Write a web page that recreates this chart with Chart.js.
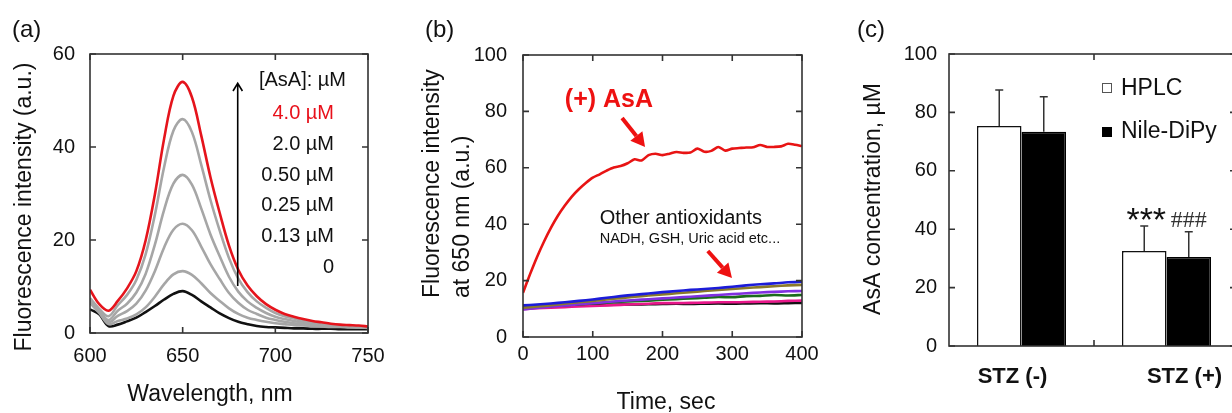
<!DOCTYPE html>
<html>
<head>
<meta charset="utf-8">
<script src="https://cdn.jsdelivr.net/npm/chart.js@4.4.1/dist/chart.umd.min.js"></script>
<style>
  html, body { margin: 0; padding: 0; background: #fff; overflow: hidden; }
  #wrap { position: relative; width: 1232px; height: 413px; overflow: hidden; background: #fff; }
  canvas { position: absolute; top: 0; }
</style>
</head>
<body>
<div id="wrap">
  <canvas id="chartA" width="410" height="413" style="left:0px"></canvas>
  <canvas id="chartB" width="420" height="413" style="left:410px"></canvas>
  <canvas id="chartC" width="400" height="413" style="left:840px"></canvas>
</div>
<script>
// ---- (a) emission spectra ----
const wavelengths = [600,605,610,615,620,625,630,635,640,645,650,655,660,665,670,675,680,685,690,695,700,705,710,715,720,725,730,735,740,745,750];
const spec_4_00 = [9.3,6.2,4.8,6.9,9.6,13.3,19.9,29.8,41.8,51.0,54.0,50.7,42.5,33.5,25.8,18.8,13.6,10.2,7.9,6.2,5.0,4.1,3.5,3.0,2.6,2.3,2.0,1.8,1.7,1.6,1.4];
const spec_2_00 = [7.5,5.2,3.6,6.0,8.2,11.4,16.9,25.4,35.7,43.5,46.0,43.2,36.2,28.6,22.0,16.1,11.7,8.8,6.8,5.4,4.3,3.6,3.1,2.6,2.3,2.1,1.8,1.6,1.5,1.4,1.3];
const spec_0_50 = [7.0,4.8,2.8,4.8,6.3,8.7,12.7,19.0,26.5,32.1,34.0,31.9,26.8,21.2,16.5,12.1,8.9,6.8,5.4,4.3,3.5,3.0,2.6,2.3,2.0,1.8,1.6,1.5,1.4,1.3,1.2];
const spec_0_25 = [6.8,4.5,2.3,3.7,4.7,6.3,9.1,13.3,18.4,22.2,23.5,22.1,18.6,14.8,11.6,8.6,6.5,5.0,4.1,3.3,2.8,2.4,2.1,1.9,1.7,1.6,1.5,1.4,1.3,1.2,1.2];
const spec_0_13 = [6.5,4.3,1.9,2.6,3.1,4.0,5.5,7.8,10.5,12.6,13.3,12.5,10.7,8.6,6.9,5.3,4.1,3.3,2.8,2.4,2.1,1.9,1.7,1.6,1.5,1.4,1.3,1.3,1.2,1.2,1.1];
const spec_0_00 = [5.1,4.0,1.5,1.8,2.5,3.3,4.5,5.8,7.2,8.4,9.0,8.2,6.8,5.5,4.2,3.2,2.4,1.9,1.5,1.3,1.2,1.1,1.0,1.0,0.9,0.9,0.9,0.8,0.8,0.8,0.8];
const concLabels = ["4.0 µM", "2.0 µM", "0.50 µM", "0.25 µM", "0.13 µM", "0"];

// ---- (b) time course at 650 nm ----
const time10 = [0,10,20,30,40,50,60,70,80,90,100,110,120,130,140,150,160,170,180,190,200,210,220,230,240,250,260,270,280,290,300,310,320,330,340,350,360,370,380,390,400];
const asaTrace = [15.7,22.2,28.3,33.8,38.7,43.0,46.6,49.8,52.4,54.6,56.5,57.7,59.0,60.1,60.6,61.6,63.0,62.6,64.5,65.0,64.5,65.0,65.6,65.3,65.4,66.8,65.7,66.0,67.4,66.1,66.8,67.0,67.2,67.3,68.1,67.4,67.4,67.6,68.5,68.2,67.7];
const time20 = [0,20,40,60,80,100,120,140,160,180,200,220,240,260,280,300,320,340,360,380,400];
const otherBlue   = [11.2,11.5,11.9,12.3,12.8,13.3,13.9,14.5,15.0,15.4,15.9,16.3,16.7,17.0,17.4,17.8,18.3,18.7,19.0,19.4,19.6];
const otherOlive  = [10.4,10.8,11.3,11.8,12.3,12.8,13.3,13.8,14.3,14.7,15.1,15.5,15.9,16.3,16.7,17.0,17.4,17.7,18.0,18.3,18.5];
const otherPurple = [9.8,10.3,10.8,11.2,11.6,12.0,12.4,12.8,13.1,13.4,13.7,14.0,14.3,14.6,14.9,15.2,15.5,15.8,16.0,16.2,16.3];
const otherGreen  = [10.6,10.8,11.0,11.3,11.6,11.9,12.2,12.5,12.7,12.9,13.2,13.4,13.7,13.9,14.2,14.1,14.5,14.6,14.9,14.7,14.9];
const otherPink   = [9.9,10.2,10.4,10.6,10.8,11.0,11.2,11.4,11.6,11.8,12.0,12.0,12.1,12.2,12.3,12.3,12.4,12.5,12.6,12.8,12.9];
const otherBlack  = [10.9,11.0,11.1,11.2,11.2,11.3,11.4,11.5,11.5,11.6,11.7,11.8,11.7,11.8,11.9,11.8,11.9,12.0,11.9,12.0,12.1];

// ---- (c) AsA concentration ----
const groups = ["STZ (-)", "STZ (+)"];
const hplcMean = [75.3, 32.5];
const hplcErr  = [12.4, 8.6];
const dipyMean = [73.4, 30.5];
const dipyErr  = [12.0, 8.6];

Chart.defaults.font.family = "'Liberation Sans', Arial, sans-serif";
Chart.defaults.color = "#111";
Chart.defaults.animation = false;

const FRAME = "#333";
const SANS = "'Liberation Sans', Arial, sans-serif";

function xy(xs, ys) { return xs.map((v, i) => ({ x: v, y: ys[i] })); }

// frame plus inward ticks on all sides
function drawBox(chart, xVals, yVals, len, rightLen) {
  const { ctx, chartArea: a, scales } = chart;
  const x = scales.x, y = scales.y;
  ctx.save();
  ctx.strokeStyle = FRAME;
  ctx.lineWidth = 1.6;
  ctx.strokeRect(a.left, a.top, a.right - a.left, a.bottom - a.top);
  ctx.beginPath();
  xVals.forEach(v => {
    const px = x.getPixelForValue(v);
    ctx.moveTo(px, a.bottom); ctx.lineTo(px, a.bottom - len);
    ctx.moveTo(px, a.top); ctx.lineTo(px, a.top + len);
  });
  yVals.forEach(v => {
    const py = y.getPixelForValue(v);
    ctx.moveTo(a.left, py); ctx.lineTo(a.left + len, py);
    ctx.moveTo(a.right, py); ctx.lineTo(a.right - (rightLen || len), py);
  });
  ctx.stroke();
  ctx.restore();
}

function text(ctx, s, x, y, font, color, align, rotate) {
  ctx.save();
  ctx.font = font;
  ctx.fillStyle = color || "#111";
  ctx.textAlign = align || "left";
  ctx.textBaseline = "middle";
  if (rotate) {
    ctx.translate(x, y);
    ctx.rotate(-Math.PI / 2);
    ctx.fillText(s, 0, 0);
  } else {
    ctx.fillText(s, x, y);
  }
  ctx.restore();
}

function arrow(ctx, x0, y0, x1, y1, color, width, head, filled) {
  const ang = Math.atan2(y1 - y0, x1 - x0);
  ctx.save();
  ctx.strokeStyle = color;
  ctx.fillStyle = color;
  ctx.lineWidth = width;
  ctx.beginPath();
  if (filled) {
    const bx = x1 - head * Math.cos(ang), by = y1 - head * Math.sin(ang);
    ctx.moveTo(x0, y0); ctx.lineTo(bx, by); ctx.stroke();
    ctx.beginPath();
    ctx.moveTo(x1, y1);
    ctx.lineTo(bx + head * 0.55 * Math.sin(ang), by - head * 0.55 * Math.cos(ang));
    ctx.lineTo(bx - head * 0.55 * Math.sin(ang), by + head * 0.55 * Math.cos(ang));
    ctx.closePath();
    ctx.fill();
  } else {
    ctx.moveTo(x0, y0); ctx.lineTo(x1, y1);
    ctx.moveTo(x1 - head * Math.cos(ang - 0.55), y1 - head * Math.sin(ang - 0.55));
    ctx.lineTo(x1, y1);
    ctx.lineTo(x1 - head * Math.cos(ang + 0.55), y1 - head * Math.sin(ang + 0.55));
    ctx.stroke();
  }
  ctx.restore();
}

function baseScales(xOpts, yOpts, xHeight, yWidth) {
  const common = {
    grid: { display: false, drawTicks: false },
    border: { display: false },
  };
  return {
    x: Object.assign({}, common, xOpts, { afterFit: s => { s.height = xHeight; } }),
    y: Object.assign({}, common, yOpts, { afterFit: s => { s.width = yWidth; } }),
  };
}

// ===================== (a) =====================
const panelA = {
  id: "panelA",
  afterDraw(chart) {
    const { ctx, scales: { x, y } } = chart;
    drawBox(chart, x.ticks.map(t => t.value), y.ticks.map(t => t.value), 6);
    text(ctx, "(a)", 12, 30, "24px " + SANS);
    text(ctx, "Fluorescence intensity (a.u.)", 25, 207, "23px " + SANS, "#111", "center", true);
    text(ctx, "Wavelength, nm", 210, 395, "23px " + SANS, "#111", "center");
    // concentration arrow
    arrow(ctx, x.getPixelForValue(679.7), y.getPixelForValue(10.1),
          x.getPixelForValue(679.7), y.getPixelForValue(53.7), "#000", 1.6, 9, false);
    text(ctx, "[AsA]: µM", 346, 80, "20px " + SANS, "#111", "right");
    const rowsY = [113, 144, 175, 205, 236, 267];
    concLabels.forEach((s, i) => {
      text(ctx, s, 334, rowsY[i], "20px " + SANS, i === 0 ? "#e8101a" : "#111", "right");
    });
  }
};

const specSeries = [spec_4_00, spec_2_00, spec_0_50, spec_0_25, spec_0_13, spec_0_00];
const specColors = ["#e5141c", "#a6a6a6", "#a6a6a6", "#a6a6a6", "#a6a6a6", "#111111"];

new Chart(document.getElementById("chartA"), {
  type: "line",
  data: {
    datasets: specSeries.map((s, i) => ({
      label: concLabels[i],
      data: xy(wavelengths, s),
      borderColor: specColors[i],
      borderWidth: 2.6,
      pointRadius: 0,
      tension: 0.35,
    })),
  },
  options: {
    responsive: false,
    animation: false,
    layout: { padding: { top: 54, right: 42, left: 0, bottom: 0 } },
    plugins: { legend: { display: false }, tooltip: { enabled: false } },
    scales: baseScales(
      { type: "linear", min: 600, max: 750, ticks: { stepSize: 50, padding: 11, font: { size: 20 } } },
      { min: 0, max: 60, ticks: { stepSize: 20, padding: 15, font: { size: 20 } } },
      80, 90),
  },
  plugins: [panelA],
});

// ===================== (b) =====================
const panelB = {
  id: "panelB",
  afterDraw(chart) {
    const { ctx, scales: { x, y } } = chart;
    drawBox(chart, x.ticks.map(t => t.value), y.ticks.map(t => t.value), 6);
    text(ctx, "(b)", 15, 30, "24px " + SANS);
    text(ctx, "Fluorescence intensity", 23, 298, "23px " + SANS, "#111", "left", true);
    text(ctx, "at 650 nm (a.u.)", 53, 298, "23px " + SANS, "#111", "left", true);
    text(ctx, "Time, sec", 256, 403, "23px " + SANS, "#111", "center");
    text(ctx, "(+) AsA", x.getPixelForValue(60), y.getPixelForValue(84), "bold 25px " + SANS, "#ee1111");
    arrow(ctx, x.getPixelForValue(142), y.getPixelForValue(77.7),
          x.getPixelForValue(175), y.getPixelForValue(67.4), "#ee1111", 4, 14, true);
    text(ctx, "Other antioxidants", x.getPixelForValue(110), y.getPixelForValue(42), "20px " + SANS);
    text(ctx, "NADH, GSH, Uric acid etc...", x.getPixelForValue(110), y.getPixelForValue(34.6), "14.5px " + SANS);
    arrow(ctx, x.getPixelForValue(265), y.getPixelForValue(30.5),
          x.getPixelForValue(299.6), y.getPixelForValue(20.9), "#ee1111", 4, 14, true);
  }
};

const otherSeries = [otherBlue, otherOlive, otherPurple, otherGreen, otherPink, otherBlack];
const otherColors = ["#1c1cd8", "#8a7a2a", "#8030e0", "#1b6b1b", "#e8178a", "#111111"];

new Chart(document.getElementById("chartB"), {
  type: "line",
  data: {
    datasets: [{
      label: "(+) AsA",
      data: xy(time10, asaTrace),
      borderColor: "#e81414",
      borderWidth: 2.6,
      pointRadius: 0,
      tension: 0.25,
    }].concat(otherSeries.map((s, i) => ({
      label: "other " + i,
      data: xy(time20, s),
      borderColor: otherColors[i],
      borderWidth: 2.6,
      pointRadius: 0,
      tension: 0.25,
    }))),
  },
  options: {
    responsive: false,
    animation: false,
    layout: { padding: { top: 55, right: 28, left: 0, bottom: 0 } },
    plugins: { legend: { display: false }, tooltip: { enabled: false } },
    scales: baseScales(
      { type: "linear", min: 0, max: 400, ticks: { stepSize: 100, padding: 5, font: { size: 20 } } },
      { min: 0, max: 100, ticks: { stepSize: 20, padding: 16, font: { size: 20 } } },
      76, 113),
  },
  plugins: [panelB],
});

// ===================== (c) =====================
const errs = [hplcErr, dipyErr];
const panelC = {
  id: "panelC",
  afterDatasetsDraw(chart) {
    const { ctx, scales: { y } } = chart;
    ctx.save();
    ctx.strokeStyle = "#333";
    ctx.lineWidth = 1.5;
    chart.data.datasets.forEach((ds, di) => {
      chart.getDatasetMeta(di).data.forEach((bar, j) => {
        const top = y.getPixelForValue(ds.data[j] + errs[di][j]);
        ctx.beginPath();
        ctx.moveTo(bar.x, bar.y); ctx.lineTo(bar.x, top);
        ctx.moveTo(bar.x - 4, top); ctx.lineTo(bar.x + 4, top);
        ctx.stroke();
      });
    });
    ctx.restore();
  },
  afterDraw(chart) {
    const { ctx, scales: { x, y } } = chart;
    drawBox(chart, [0.5], y.ticks.map(t => t.value), 6, 9);
    text(ctx, "(c)", 17, 30, "24px " + SANS);
    text(ctx, "AsA concentration, µM", 34, 199, "23px " + SANS, "#111", "center", true);
    text(ctx, groups[0], x.getPixelForValue(0) - 9, 377, "bold 22px " + SANS, "#111", "center");
    text(ctx, groups[1], x.getPixelForValue(1) + 18, 377, "bold 22px " + SANS, "#111", "center");
    // legend
    ctx.save();
    ctx.lineWidth = 1;
    ctx.strokeStyle = "#555";
    ctx.strokeRect(262.5, 83.5, 9, 9);
    ctx.fillStyle = "#000";
    ctx.fillRect(262, 127, 10, 10);
    ctx.restore();
    text(ctx, "HPLC", 281, 89, "23px " + SANS);
    text(ctx, "Nile-DiPy", 281, 132, "23px " + SANS);
    // significance marks
    const m0 = chart.getDatasetMeta(0).data[1];
    const m1 = chart.getDatasetMeta(1).data[1];
    text(ctx, "***", m0.x + 2, y.getPixelForValue(hplcMean[1] + hplcErr[1]) - 4, "34px " + SANS, "#111", "center");
    text(ctx, "###", m1.x, y.getPixelForValue(dipyMean[1] + dipyErr[1]) - 11, "24px 'Liberation Serif', serif", "#333", "center");
  }
};

new Chart(document.getElementById("chartC"), {
  type: "bar",
  data: {
    labels: groups,
    datasets: [
      { label: "HPLC", data: hplcMean, backgroundColor: "#ffffff", borderColor: "#111", borderWidth: 1.5,
        barPercentage: 1.0, categoryPercentage: 0.614 },
      { label: "Nile-DiPy", data: dipyMean, backgroundColor: "#000000", borderColor: "#000", borderWidth: 1.5,
        barPercentage: 1.0, categoryPercentage: 0.614 },
    ],
  },
  options: {
    responsive: false,
    animation: false,
    layout: { padding: { top: 54, right: 1, left: 0, bottom: 0 } },
    plugins: { legend: { display: false }, tooltip: { enabled: false } },
    scales: baseScales(
      { ticks: { display: false } },
      { min: 0, max: 100, ticks: { stepSize: 20, padding: 12, font: { size: 20 } } },
      67, 109),
  },
  plugins: [panelC],
});
</script>
</body>
</html>
